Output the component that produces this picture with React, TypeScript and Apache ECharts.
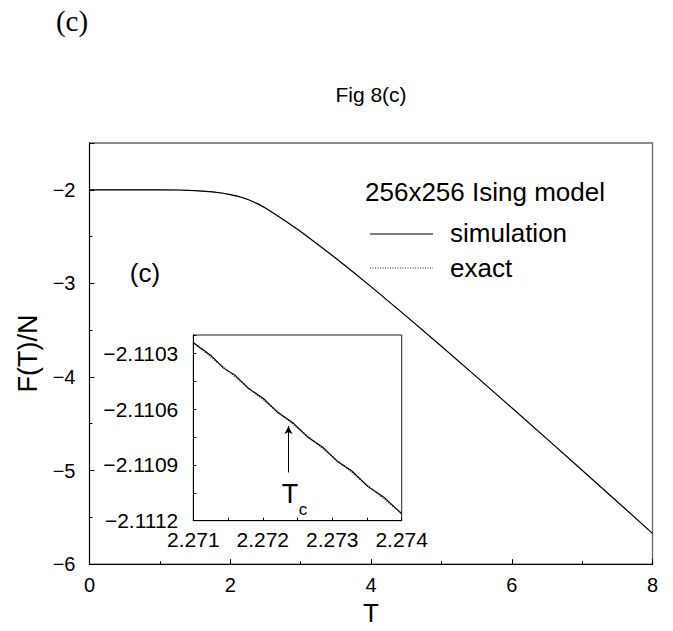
import React, { useEffect, useRef } from "react";
import * as echarts from "echarts";

// Free energy per spin of the 256x256 Ising model, full temperature range
const mainT = [0, 0.5, 1.0, 1.25, 1.5, 1.75, 1.9, 2.0, 2.1, 2.2, 2.27, 2.4, 2.5, 2.6, 2.8, 3.0, 3.25, 3.5, 3.75, 4.0, 4.5, 5.0, 5.5, 6.0, 6.5, 7.0, 7.5, 8.0];
const mainFreeEnergy = [-2.0, -2.0, -2.0003, -2.0022, -2.0084, -2.0228, -2.037, -2.052, -2.068, -2.09, -2.1096, -2.153, -2.195, -2.243, -2.342, -2.446, -2.587, -2.731, -2.882, -3.035, -3.35, -3.672, -3.999, -4.329, -4.662, -4.997, -5.333, -5.672];

// Zoom around the critical temperature
const insetExactT = [2.271, 2.2725, 2.274];
const insetExactF = [-2.11024, -2.1107, -2.11116];
const insetSimT = [2.271, 2.27126, 2.27143, 2.2716, 2.2718, 2.27201, 2.27222, 2.27244, 2.27265, 2.27287, 2.27308, 2.27328, 2.27351, 2.27374, 2.274];
const insetSimF = [-2.110242, -2.110312, -2.110377, -2.110416, -2.11049, -2.110542, -2.110619, -2.110674, -2.110751, -2.110806, -2.110883, -2.110931, -2.111015, -2.111072, -2.111163];

// Critical temperature marker (arrow tail and tip)
const tcT = 2.27237;
const tcArrowF = [-2.11094, -2.11069];

// Axis tick labels
const mainXTicks = [0, 2, 4, 6, 8];
const mainYTicks = [-6, -5, -4, -3, -2];
const insetXTicks = ["2.271", "2.272", "2.273", "2.274"];
const insetYTicks = ["\u22122.1112", "\u22122.1109", "\u22122.1106", "\u22122.1103"];

const SANS = "'Liberation Sans', Arial, Helvetica, sans-serif";
const SERIF = "'Liberation Serif', 'Times New Roman', serif";

const zip = (xs: number[], ys: number[]) => xs.map((x, i) => [x, ys[i]]);
const minus = (s: string) => s.replace("-", "\u2212");

export default function App() {
  const ref = useRef<HTMLDivElement>(null);

  useEffect(() => {
    if (!ref.current) return;
    const chart = echarts.init(ref.current, undefined, { renderer: "svg" });

    const mainLabel = (v: number) => (mainXTicks.includes(v) || mainYTicks.includes(v) ? minus(String(v)) : "");
    const insetXLabel = (v: number) => {
      const s = v.toFixed(3);
      return insetXTicks.includes(s) ? s : "";
    };
    const insetYLabel = (v: number) => {
      const s = minus(v.toFixed(4));
      return insetYTicks.includes(s) ? s : "";
    };

    const tick = { show: true, inside: true, length: 5, lineStyle: { color: "#000", width: 1 } };
    const minor = { show: true, splitNumber: 2, length: 3, lineStyle: { color: "#000", width: 1 } };
    const axisLine = { show: true, onZero: false, lineStyle: { color: "#000", width: 1 } };

    const option: any = {
      animation: false,
      grid: [
        { left: 89.5, top: 143, width: 563, height: 429, show: true, borderColor: "#666", borderWidth: 1.3, backgroundColor: "transparent" },
        { left: 193.3, top: 335, width: 208.4, height: 185.7, show: true, borderColor: "#222", borderWidth: 1, backgroundColor: "#fff" },
      ],
      xAxis: [
        {
          gridIndex: 0, type: "value", min: 0, max: 8, interval: 2,
          axisLine, axisTick: tick, minorTick: minor, splitLine: { show: false },
          axisLabel: { formatter: mainLabel, fontSize: 20, color: "#000", margin: 11, fontFamily: SANS },
          name: "T", nameLocation: "middle", nameGap: 34,
          nameTextStyle: { fontSize: 26, color: "#000", fontFamily: SANS },
        },
        {
          gridIndex: 1, type: "value", min: 2.271, max: 2.274, interval: 0.001,
          axisLine, axisTick: { ...tick, length: 3 }, minorTick: minor, splitLine: { show: false },
          axisLabel: { formatter: insetXLabel, fontSize: 21, color: "#000", margin: 8, fontFamily: SANS },
        },
      ],
      yAxis: [
        {
          gridIndex: 0, type: "value", min: -6, max: -1.5, interval: 1,
          axisLine, axisTick: tick, minorTick: minor, splitLine: { show: false },
          axisLabel: { formatter: mainLabel, fontSize: 20, color: "#000", margin: 14, fontFamily: SANS, showMaxLabel: false },
          name: "F(T)/N", nameLocation: "middle", nameGap: 43,
          nameTextStyle: { fontSize: 27, color: "#000", fontFamily: SANS },
        },
        {
          gridIndex: 1, type: "value", min: -2.1112, max: -2.1102, interval: 0.0003,
          axisLine, axisTick: { ...tick, length: 3 }, minorTick: minor, splitLine: { show: false },
          axisLabel: { formatter: insetYLabel, fontSize: 21, color: "#000", margin: 15, fontFamily: SANS, showMaxLabel: false },
        },
      ],
      series: [
        {
          name: "exact", type: "line", xAxisIndex: 0, yAxisIndex: 0,
          data: zip(mainT, mainFreeEnergy), showSymbol: false,
          lineStyle: { color: "#444", width: 1, type: "dotted" }, z: 2,
        },
        {
          name: "simulation", type: "line", xAxisIndex: 0, yAxisIndex: 0,
          data: zip(mainT, mainFreeEnergy), showSymbol: false,
          lineStyle: { color: "#000", width: 1.2 }, z: 3,
        },
        {
          name: "exact (zoom)", type: "line", xAxisIndex: 1, yAxisIndex: 1,
          data: zip(insetExactT, insetExactF), showSymbol: false,
          lineStyle: { color: "#222", width: 1.5, type: [1, 1.5] }, z: 4,
        },
        {
          name: "simulation (zoom)", type: "line", xAxisIndex: 1, yAxisIndex: 1,
          data: zip(insetSimT, insetSimF), showSymbol: false,
          lineStyle: { color: "#000", width: 1.1 }, z: 5,
          markLine: {
            silent: true, symbol: ["none", "arrow"], symbolSize: [6, 8], precision: 6,
            lineStyle: { color: "#000", width: 1, type: "solid" },
            label: { show: false },
            data: [[{ coord: [tcT, tcArrowF[0]] }, { coord: [tcT, tcArrowF[1]] }]],
          },
        },
      ],
      graphic: [
        { type: "text", x: 72, y: 21, style: { text: "(c)", font: `29px ${SERIF}`, fill: "#000", align: "center", verticalAlign: "middle" } },
        { type: "text", x: 371, y: 94, style: { text: "Fig 8(c)", font: `21px ${SANS}`, fill: "#000", align: "center", verticalAlign: "middle" } },
        { type: "text", x: 365, y: 192, style: { text: "256x256 Ising model", font: `26px ${SANS}`, fill: "#000", align: "left", verticalAlign: "middle" } },
        { type: "line", shape: { x1: 370, y1: 234, x2: 433, y2: 234 }, style: { stroke: "#000", lineWidth: 1.2 } },
        { type: "text", x: 450, y: 233, style: { text: "simulation", font: `26px ${SANS}`, fill: "#000", align: "left", verticalAlign: "middle" } },
        { type: "line", shape: { x1: 370, y1: 268, x2: 433, y2: 268 }, style: { stroke: "#222", lineWidth: 1, lineDash: [1, 1.5] } },
        { type: "text", x: 450, y: 268, style: { text: "exact", font: `26px ${SANS}`, fill: "#000", align: "left", verticalAlign: "middle" } },
        { type: "text", x: 145, y: 273, style: { text: "(c)", font: `26px ${SANS}`, fill: "#000", align: "center", verticalAlign: "middle" } },
        { type: "text", x: 290, y: 494, z: 10, style: { text: "T", font: `27px ${SANS}`, fill: "#000", align: "center", verticalAlign: "middle" } },
        { type: "text", x: 303, y: 509, z: 10, style: { text: "c", font: `17px ${SANS}`, fill: "#000", align: "center", verticalAlign: "middle" } },
      ],
    };

    chart.setOption(option);
    return () => chart.dispose();
  }, []);

  return <div ref={ref} style={{ position: "absolute", left: 0, top: 0, width: 673, height: 631, background: "#fff" }} />;
}
